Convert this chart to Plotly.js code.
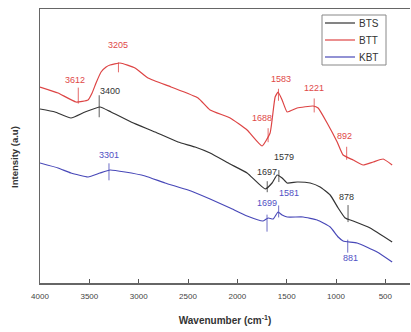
<!DOCTYPE html>
<html>
<head>
<meta charset="utf-8">
<script src="https://cdn.plot.ly/plotly-3.0.1.min.js"></script>
<style>html,body{margin:0;padding:0;background:#fff;}#chart{width:411px;height:332px;}</style>
</head>
<body>
<div id="chart"></div>
<script>
// ---- data (wavenumber cm^-1, intensity a.u.) ----
const seriesNames = ["BTS", "BTT", "KBT"];

const btsWn = [4000, 3848, 3686, 3544, 3392, 3280, 3077, 2834, 2601, 2428, 2276, 2073, 1901, 1718, 1648, 1597, 1546, 1495, 1394, 1262, 1161, 1059, 978, 907, 826, 654, 431];
const btsI  = [174, 171, 165, 171, 176, 171, 161, 151, 141, 136, 130, 119, 110, 94, 100, 108, 105, 100, 101, 100, 96, 88, 75, 65, 62, 55, 41];

const bttWn = [4000, 3817, 3635, 3513, 3472, 3432, 3381, 3330, 3290, 3189, 3037, 2905, 2672, 2398, 2276, 2073, 1901, 1749, 1668, 1617, 1587, 1546, 1495, 1394, 1232, 1181, 1090, 988, 928, 826, 725, 623, 522, 431];
const bttI  = [196, 190, 181, 183, 190, 200, 211, 216, 218, 220, 215, 205, 196, 185, 173, 165, 153, 137, 150, 186, 191, 183, 171, 175, 177, 175, 160, 141, 128, 123, 118, 121, 124, 118];

const kbtWn = [4000, 3817, 3686, 3513, 3392, 3290, 3138, 2935, 2733, 2499, 2276, 2073, 1901, 1739, 1688, 1637, 1587, 1546, 1495, 1333, 1191, 1059, 978, 928, 786, 583, 431];
const kbtI  = [120, 115, 110, 106, 110, 113, 111, 107, 100, 93, 84, 75, 67, 62, 65, 64, 71, 68, 66, 66, 63, 56, 46, 42, 40, 31, 21];

// peak labels
const peakSeries = ["BTT", "BTT", "BTS", "KBT", "BTT", "BTT", "BTT", "BTT", "BTS", "BTS", "BTS", "KBT", "KBT", "KBT"];
const peakWn     = [3612, 3205, 3400, 3301, 1583, 1688, 1221, 892, 1579, 1697, 878, 1581, 1699, 881];
const peakText   = ["3612", "3205", "3400", "3301", "1583", "1688", "1221", "892", "1579", "1697", "878", "1581", "1699", "881"];

const xTicks = [4000, 3500, 3000, 2500, 2000, 1500, 1000, 500];

// ---- styles ----
const colors = { BTS: "#333333", BTT: "#dd4444", KBT: "#4848b8" };
const labelColors = { BTS: "#333333", BTT: "#e04848", KBT: "#5050c4" };
// label placement (px): dx, dy (text), up/down (tick half-lengths)
const labelPos = [
  [-3, 22, 14, 2], [0, 18, 1, 9], [11, 16, 12, 10], [0, 15, 7, 10],
  [3, 14, 4, 8], [-6, 18, 8, 6], [0, 18, 8, 6], [-2, 21, 10, 3],
  [5, 19, 6, 6], [0, 15, 6, 5], [-2, 22, 14, 3], [10, 19, 7, 5],
  [0, 16, 4, 13], [3, -16, 2, 11]
];

const dataMap = {
  BTS: [btsWn, btsI],
  BTT: [bttWn, bttI],
  KBT: [kbtWn, kbtI]
};

function interp(xs, ys, x) {
  for (let i = 0; i < xs.length - 1; i++) {
    const a = xs[i], b = xs[i + 1];
    if ((x <= a && x >= b) || (x >= a && x <= b)) {
      const t = (x - a) / (b - a);
      return ys[i] + t * (ys[i + 1] - ys[i]);
    }
  }
  return ys[ys.length - 1];
}

const FONT = "Liberation Sans, Arial, sans-serif";

const traces = seriesNames.map(n => ({
  type: "scatter",
  mode: "lines",
  name: n,
  x: dataMap[n][0],
  y: dataMap[n][1],
  line: { color: colors[n], width: 1.2, shape: "spline", smoothing: 0.4 }
}));

const annotations = [];
const shapes = [];
peakWn.forEach((w, i) => {
  const s = peakSeries[i];
  const v = interp(dataMap[s][0], dataMap[s][1], w);
  const p = labelPos[i];
  annotations.push({
    x: w, y: v, xref: "x", yref: "y",
    text: peakText[i], showarrow: false,
    xshift: p[0], yshift: p[1],
    font: { family: FONT, size: 9, color: labelColors[s] }
  });
  shapes.push({
    type: "line", xref: "x", yref: "y",
    x0: w, x1: w, y0: v - p[3], y1: v + p[2],
    line: { color: colors[s], width: 0.8 }
  });
});

// custom compact legend (paper coords from plot pixel box 40..410 x 9..283)
const PL = 40, PW = 370, PB = 283, PH = 274;
const px = x => (x - PL) / PW;
const py = y => (PB - y) / PH;
shapes.push({
  type: "rect", xref: "paper", yref: "paper",
  x0: px(322), x1: px(386), y0: py(15), y1: py(65),
  fillcolor: "#fff", line: { color: "#888", width: 1 }, layer: "above"
});
seriesNames.forEach((n, i) => {
  const yy = 23 + i * 17;
  shapes.push({
    type: "line", xref: "paper", yref: "paper",
    x0: px(325), x1: px(355), y0: py(yy), y1: py(yy),
    line: { color: colors[n], width: 1.2 }, layer: "above"
  });
  annotations.push({
    xref: "paper", yref: "paper", x: px(357), y: py(yy),
    xanchor: "left", yanchor: "middle", showarrow: false,
    text: n, font: { family: FONT, size: 10, color: "#333" }
  });
});

annotations.push({
  xref: "paper", yref: "paper", x: 0, y: 0.46,
  xshift: -25, xanchor: "center", yanchor: "middle",
  textangle: -90, showarrow: false,
  text: "<b>Intensity (a.u)</b>",
  font: { family: FONT, size: 9.5, color: "#333" }
});

const layout = {
  width: 411, height: 332,
  margin: { l: 40, r: 1, t: 9, b: 49 },
  paper_bgcolor: "#fff", plot_bgcolor: "#fff",
  showlegend: false,
  xaxis: {
    range: [4000, 250],
    tickvals: xTicks,
    ticktext: xTicks.map(String),
    ticks: "inside", ticklen: 4, tickcolor: "#555", tickwidth: 1,
    showline: true, linecolor: "#666", linewidth: 1.5, mirror: true,
    showgrid: false, zeroline: false,
    ticklabelstandoff: 5,
    tickfont: { family: FONT, size: 8, color: "#444" },
    title: { text: "<b>Wavenumber (cm<sup>-1</sup>)</b>", standoff: 17,
             font: { family: FONT, size: 10, color: "#333" } }
  },
  yaxis: {
    range: [0, 274],
    showticklabels: false, ticks: "",
    showline: true, linecolor: "#666", linewidth: 1.5, mirror: false,
    showgrid: false, zeroline: false
  },
  annotations: annotations,
  shapes: shapes
};

Plotly.newPlot("chart", traces, layout, { displayModeBar: false, staticPlot: true });
</script>
</body>
</html>
